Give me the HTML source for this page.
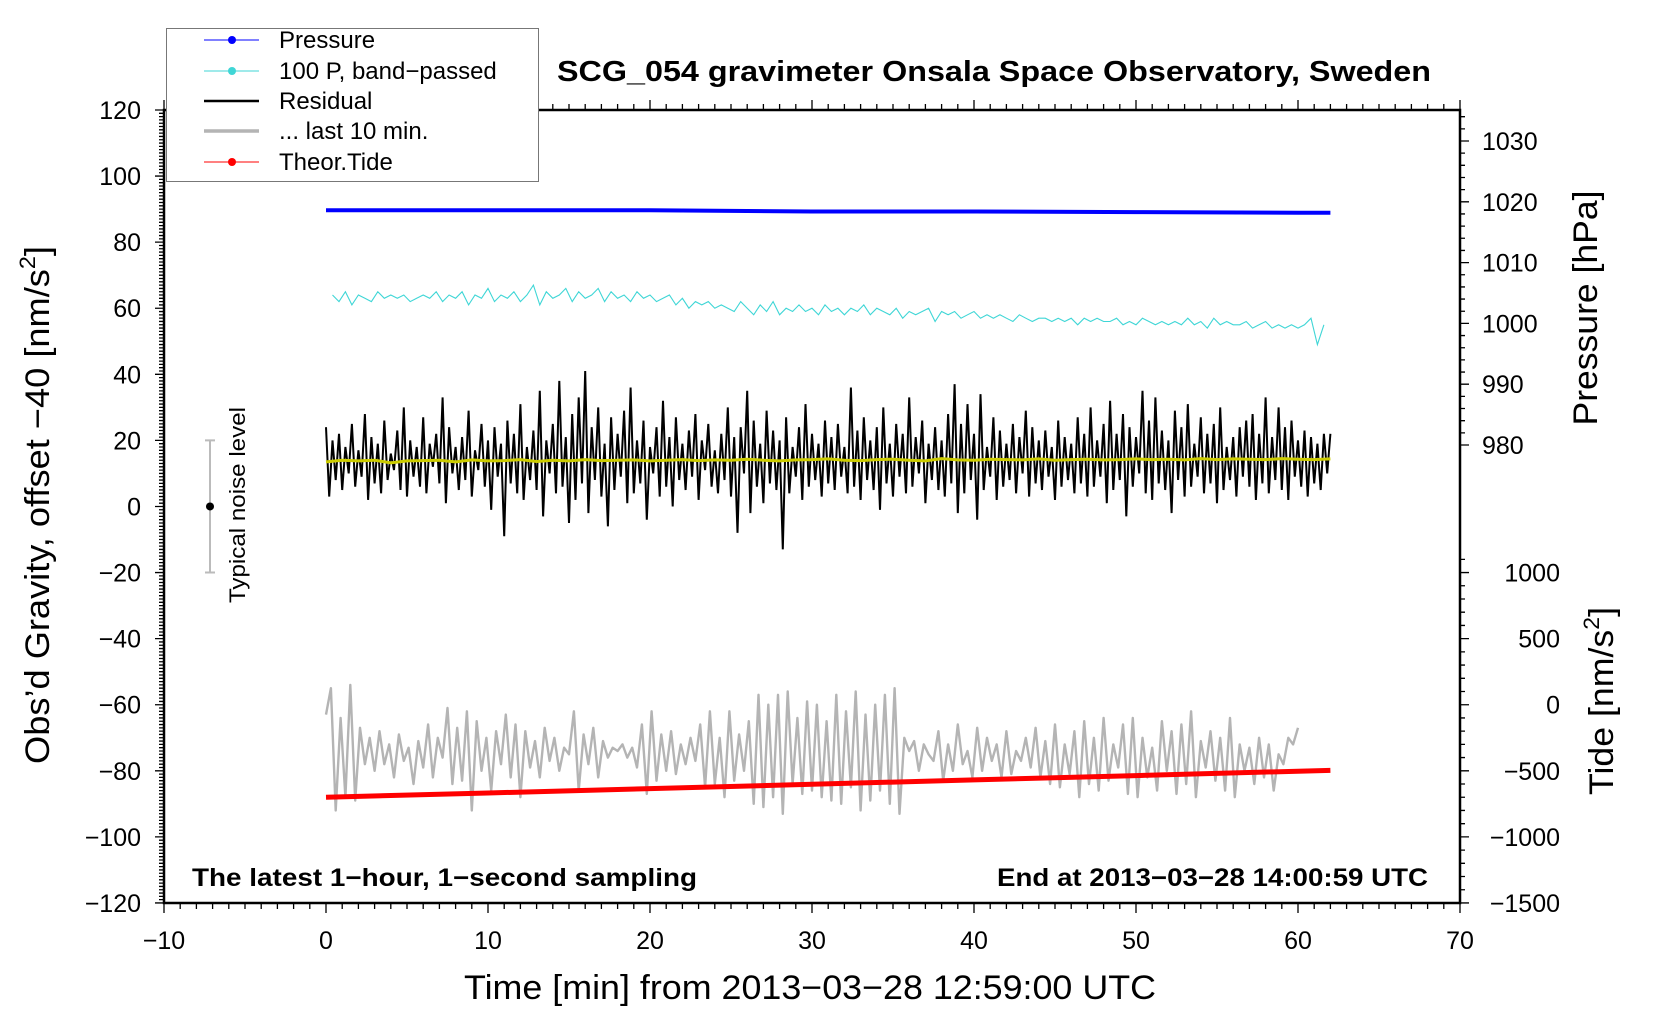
<!DOCTYPE html>
<html><head><meta charset="utf-8"><title>SCG_054 gravimeter</title>
<style>
html,body{margin:0;padding:0;background:#fff;}
svg{display:block;font-family:"Liberation Sans",Arial,sans-serif;}
</style></head>
<body>
<svg id="chart" width="1660" height="1020" viewBox="0 0 1660 1020" xmlns="http://www.w3.org/2000/svg">
<rect width="1660" height="1020" fill="#fff"/>
<g id="axes"></g>
<g id="series"></g>
<g id="legend"></g>
</svg>
<script>
// ---- data ----
const residualStart = 0, residualStep = 0.2;
const residualValues = [
24,3,20,8,22,5,18,10,25,6,
17,9,28,2,21,7,19,4,26,8,
16,11,23,5,30,3,20,9,18,6,
27,4,19,12,22,7,33,1,24,10,
18,5,21,8,29,3,17,11,25,6,
20,-1,24,9,19,-9,26,7,22,4,
31,2,18,8,23,5,35,-3,20,10,
25,4,38,6,21,-5,28,2,33,7,
41,-2,24,8,30,3,19,-6,27,5,
22,9,29,1,36,4,20,7,26,-4,
18,10,24,3,32,6,21,0,27,8,
19,5,23,9,28,2,20,11,25,6,
17,4,22,8,30,3,21,-8,24,10,
35,-2,26,6,19,1,29,7,23,5,
20,-13,27,4,18,9,24,2,31,6,
22,8,19,3,26,7,21,5,25,9,
18,4,36,6,23,2,27,8,20,5,
24,-1,30,7,19,3,25,9,22,4,
33,6,21,10,26,1,19,8,24,5,
20,3,28,7,37,-2,25,4,31,8,
22,-4,34,5,18,9,27,2,23,6,
19,8,25,4,21,10,29,3,24,7,
20,5,23,9,18,2,26,6,21,8,
19,4,27,7,22,3,30,6,20,9,
25,1,32,5,22,8,28,-3,24,6,
21,10,35,4,26,2,33,7,23,5,
20,-2,29,8,24,3,31,6,19,9,
27,4,22,7,25,1,30,5,18,8,
21,3,24,9,26,6,28,2,22,7,
33,4,21,8,30,5,24,2,26,9,
20,6,23,3,21,7,19,5,22,10,
22];
const smoothStart = 0, smoothStep = 1;
const smoothValues = [13.5,14,13.8,14,13.2,13.8,13.9,14,13.5,14.1,13.8,13.9,14.2,13.6,14,13.8,14.2,13.9,14,14.1,13.8,14,14.2,13.9,14.1,14,14.3,14,13.8,14.1,14.2,14.4,14,13.9,14.2,14.3,14,13.8,14.5,14.1,14,14.3,14.2,14.1,14.4,14,14.2,14.3,14.1,14.2,14.4,14.2,14.3,14.1,14.5,14.2,14.4,14.3,14.2,14.5,14.3,14.2,14.4];
const last10Start = 0, last10Step = 0.3;
const last10Values = [
-63,-55,-92,-64,-88,-54,-89,-67,-78,-70,
-80,-68,-78,-72,-82,-69,-77,-73,-84,-71,
-79,-66,-82,-70,-76,-61,-84,-67,-83,-62,
-92,-65,-80,-70,-86,-68,-78,-63,-82,-66,
-88,-68,-79,-71,-82,-67,-77,-70,-80,-73,
-75,-62,-86,-69,-78,-67,-82,-71,-76,-73,
-74,-72,-76,-73,-79,-66,-87,-62,-83,-69,
-80,-68,-81,-72,-78,-70,-77,-66,-85,-62,
-84,-70,-88,-62,-83,-69,-80,-65,-90,-57,
-91,-60,-88,-57,-93,-56,-84,-64,-87,-59,
-86,-60,-88,-65,-89,-57,-90,-62,-85,-56,
-92,-63,-89,-60,-86,-57,-90,-55,-93,-70,
-74,-71,-80,-72,-75,-77,-68,-83,-72,-80,
-66,-78,-74,-82,-67,-80,-70,-77,-72,-82,
-68,-81,-74,-77,-70,-79,-67,-82,-71,-84,
-66,-85,-72,-81,-68,-88,-65,-84,-70,-86,
-64,-83,-72,-79,-66,-87,-64,-88,-70,-82,
-73,-86,-65,-80,-68,-87,-66,-84,-62,-88,
-71,-79,-68,-83,-70,-86,-64,-88,-72,-80,
-73,-84,-70,-82,-72,-86,-75,-78,-70,-72,
-67];
const bandStart = 0.4, bandStep = 0.4;
const bandValues = [
64,62,65,61,64,63,62,65,63,64,
63,64,62,63,64,63,65,62,64,63,
65,61,64,63,66,62,64,63,65,62,
64,67,61,65,63,64,66,62,65,63,
64,66,62,65,63,64,62,65,63,64,
62,63,64,61,63,60,62,61,62,60,
61,60,59,62,60,58,61,59,62,58,
60,59,61,59,60,58,61,59,60,58,
60,59,61,58,60,59,58,60,57,59,
58,59,60,56,59,58,59,57,58,59,
57,58,57,58,57,56,58,57,56,57,
57,56,57,56,57,55,57,56,57,56,
56,57,55,56,55,57,56,55,56,55,
56,55,57,55,56,54,57,55,56,55,
55,56,54,55,56,54,55,54,55,54,
55,57,49,55];
const pressureTimes = [0,10,20,25,30,40,50,60,62];
const pressureValues = [1018.6,1018.6,1018.6,1018.5,1018.4,1018.4,1018.3,1018.2,1018.2];
const tideTimes = [0,10,20,30,40,50,60,62];
const tideValues = [-700,-668,-635,-602,-569,-536,-503,-497];
const xTicks = [-10,0,10,20,30,40,50,60,70];
const yTicks = [-120,-100,-80,-60,-40,-20,0,20,40,60,80,100,120];
const pTicks = [980,990,1000,1010,1020,1030];
const tideTicks = [-1500,-1000,-500,0,500,1000];

// ---- scales ----
const X = t => 326 + t * 16.2;
const Y = g => 110 + (120 - g) * 3.304;
const P = p => 445 - (p - 980) * 6.08;
const TD = v => Y((v - 1500) / 25);
const NS = "http://www.w3.org/2000/svg";
function mk(tag, attrs, parent, text) {
  const e = document.createElementNS(NS, tag);
  for (const k in attrs) e.setAttribute(k, attrs[k]);
  if (text !== undefined) e.textContent = text;
  parent.appendChild(e);
  return e;
}
const axes = document.getElementById('axes');
const series = document.getElementById('series');
const L = X(-10), R = X(70), TOP = Y(120), BOT = Y(-120);

let d = "";
for (let m = -10; m <= 70; m++) {
  const x = X(m), big = m % 10 === 0;
  d += `M${x},${BOT}v${big ? 10 : 6}M${x},${TOP}v${big ? -10 : -6}`;
}
for (let g = -120; g <= 120; g++) {
  d += `M${L},${Y(g)}h${g % 20 === 0 ? -9 : -5}`;
}
for (let p = 980; p <= 1035; p += 2) {
  d += `M${R},${P(p)}h${p % 10 === 0 ? 9 : 5}`;
}
for (let v = -1500; v <= 1100; v += 100) {
  d += `M${R},${TD(v)}h${v % 500 === 0 ? 9 : 5}`;
}
const tk = mk('path', {d: d, stroke: '#000', 'stroke-width': 1.3, fill: 'none'}, axes);


const frame = mk('path', {d: `M${L},${TOP}H${R}V${BOT}H${L}Z`, stroke: '#000', 'stroke-width': 2.5, fill: 'none'}, axes);



xTicks.forEach(v => {
  const t = mk('text', {x: X(v), y: 949, 'font-size': 25, 'text-anchor': 'middle'}, axes, String(v).replace('-', '\u2212'));
  
  
});
yTicks.forEach(v => {
  const t = mk('text', {x: 141, y: Y(v) + 9, 'font-size': 25, 'text-anchor': 'end'}, axes, String(v).replace('-', '\u2212'));
  
  
});
pTicks.forEach(v => {
  const t = mk('text', {x: 1482, y: P(v) + 9, 'font-size': 25}, axes, String(v));
  
  
});
tideTicks.forEach(v => {
  const t = mk('text', {x: 1560, y: TD(v) + 9, 'font-size': 25, 'text-anchor': 'end'}, axes, String(v).replace('-', '\u2212'));
  
  
});

function seriesPath(start, step, vals, sy) {
  return vals.map((v, i) => (i ? 'L' : 'M') + X(start + i * step).toFixed(1) + ',' + sy(v).toFixed(1)).join('');
}
function pairPath(ts, vals, sy) {
  return vals.map((v, i) => (i ? 'L' : 'M') + X(ts[i]).toFixed(1) + ',' + sy(v).toFixed(1)).join('');
}
const pr = mk('path', {d: pairPath(pressureTimes, pressureValues, P), stroke: '#0000ff', 'stroke-width': 4, fill: 'none'}, series);


const bp = mk('path', {d: seriesPath(bandStart, bandStep, bandValues, Y), stroke: '#3fd6d6', 'stroke-width': 1.1, fill: 'none'}, series);


const rs = mk('path', {d: seriesPath(residualStart, residualStep, residualValues, Y), stroke: '#000', 'stroke-width': 2, fill: 'none'}, series);


const sm = mk('path', {d: seriesPath(smoothStart, smoothStep, smoothValues, Y), stroke: '#cccc00', 'stroke-width': 3, fill: 'none'}, series);


const ls = mk('path', {d: seriesPath(last10Start, last10Step, last10Values, Y), stroke: '#b4b4b4', 'stroke-width': 2.4, fill: 'none', 'stroke-linejoin': 'round'}, series);


const td = mk('path', {d: pairPath(tideTimes, tideValues, TD), stroke: '#ff0000', 'stroke-width': 5, fill: 'none'}, series);



const nb = mk('path', {d: `M210,${Y(20)}V${Y(-20)}M205,${Y(20)}h10M205,${Y(-20)}h10`, stroke: '#bbb', 'stroke-width': 2, fill: 'none'}, series);


const nd = mk('circle', {cx: 210, cy: Y(0), r: 4, fill: '#000'}, series);


</script>

<script>
(function(){
const NS = "http://www.w3.org/2000/svg";
const svg = document.getElementById('chart');
const legend = document.getElementById('legend');
function mk(tag, attrs, parent, text) {
  const e = document.createElementNS(NS, tag);
  for (const k in attrs) e.setAttribute(k, attrs[k]);
  if (text !== undefined) e.textContent = text;
  parent.appendChild(e);
  return e;
}
let t;
t = mk('text', {x: 994, y: 81, 'font-size': 29, 'font-weight': 'bold', 'text-anchor': 'middle', textLength: 874, lengthAdjust: 'spacingAndGlyphs'}, svg, 'SCG_054 gravimeter Onsala Space Observatory, Sweden');


t = mk('text', {x: 192, y: 886, 'font-size': 25, 'font-weight': 'bold', textLength: 505, lengthAdjust: 'spacingAndGlyphs'}, svg, 'The latest 1\u2212hour, 1\u2212second sampling');


t = mk('text', {x: 1428, y: 886, 'font-size': 25, 'font-weight': 'bold', 'text-anchor': 'end', textLength: 431, lengthAdjust: 'spacingAndGlyphs'}, svg, 'End at 2013\u221203\u221228 14:00:59 UTC');


t = mk('text', {x: 810, y: 999, 'font-size': 34, 'text-anchor': 'middle', textLength: 692, lengthAdjust: 'spacingAndGlyphs'}, svg, 'Time [min] from 2013\u221203\u221228 12:59:00 UTC');


t = mk('text', {x: 0, y: 0, 'font-size': 34, 'text-anchor': 'middle', transform: 'translate(49,505) rotate(-90)', textLength: 518, lengthAdjust: 'spacingAndGlyphs'}, svg);


t.appendChild(document.createTextNode('Obs\u2019d Gravity, offset \u221240 [nm/s'));
mk('tspan', {'font-size': 22, dy: -14}, t, '2');
mk('tspan', {dy: 14}, t, ']');
t = mk('text', {x: 0, y: 0, 'font-size': 34, 'text-anchor': 'middle', transform: 'translate(1597,308) rotate(-90)', textLength: 235, lengthAdjust: 'spacingAndGlyphs'}, svg, 'Pressure [hPa]');


t = mk('text', {x: 0, y: 0, 'font-size': 34, 'text-anchor': 'middle', transform: 'translate(1613,701) rotate(-90)', textLength: 188, lengthAdjust: 'spacingAndGlyphs'}, svg);


t.appendChild(document.createTextNode('Tide [nm/s'));
mk('tspan', {'font-size': 22, dy: -14}, t, '2');
mk('tspan', {dy: 14}, t, ']');
t = mk('text', {x: 0, y: 0, 'font-size': 22, 'text-anchor': 'middle', transform: 'translate(245,505) rotate(-90)', textLength: 196, lengthAdjust: 'spacingAndGlyphs'}, svg, 'Typical noise level');



const box = mk('rect', {x: 166.5, y: 28.5, width: 372, height: 153, fill: '#fff', stroke: '#777', 'stroke-width': 1}, legend);


const entries = [
  ['Pressure', '#0000ff', 1, true, 'legend-entry-pressure'],
  ['100 P, band\u2212passed', '#3fd6d6', 1, true, 'legend-entry-band-passed'],
  ['Residual', '#000', 2.5, false, 'legend-entry-residual'],
  ['... last 10 min.', '#b4b4b4', 3.5, false, 'legend-entry-last-10-min'],
  ['Theor.Tide', '#ff0000', 1, true, 'legend-entry-tide']
];
const ys = [40, 71, 101, 131, 162];
entries.forEach((e, i) => {
  const g = mk('g', {}, legend);
  
  
  mk('line', {x1: 204, x2: 259, y1: ys[i], y2: ys[i], stroke: e[1], 'stroke-width': e[2]}, g);
  if (e[3]) mk('circle', {cx: 232, cy: ys[i], r: 4, fill: e[1]}, g);
  mk('text', {x: 279, y: ys[i] + 8, 'font-size': 24}, g, e[0]);
});
})();
</script>
</body></html>
